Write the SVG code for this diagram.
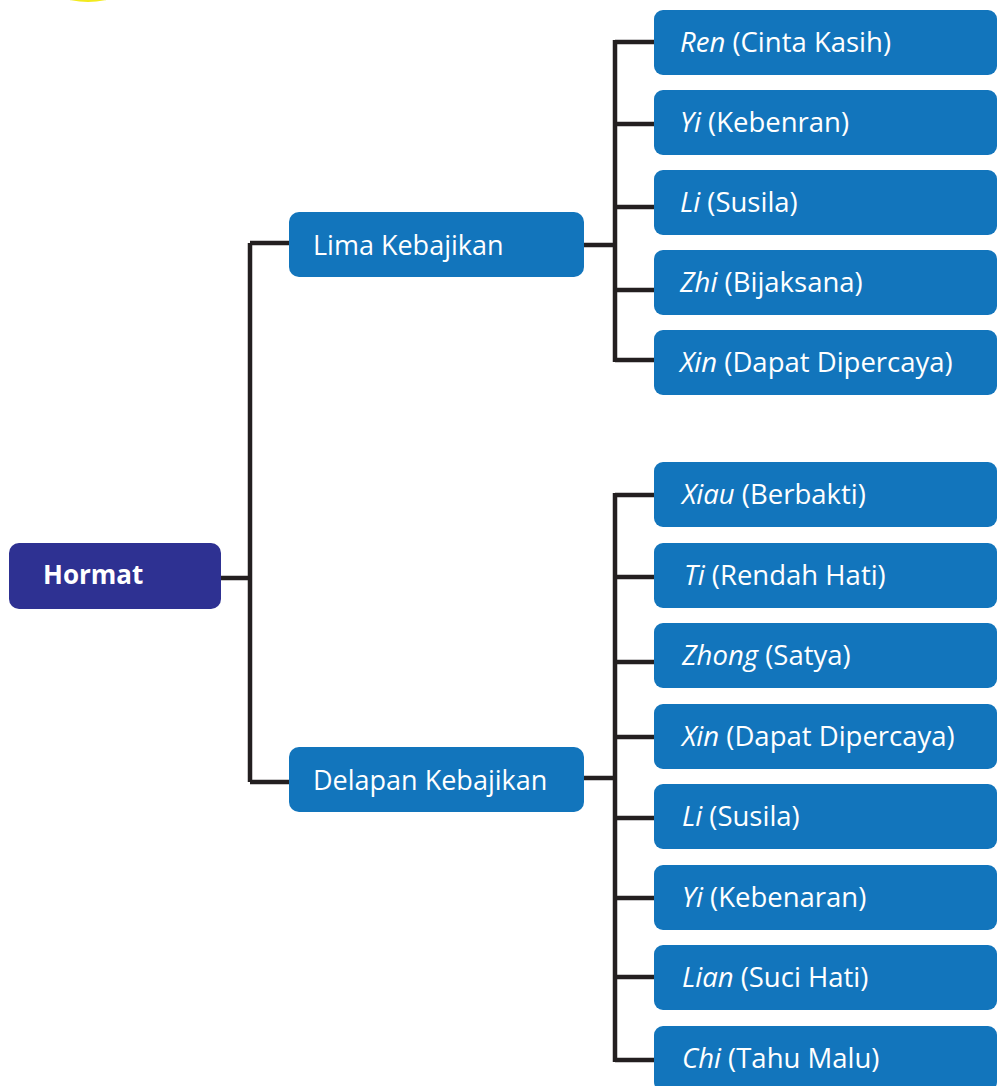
<svg xmlns="http://www.w3.org/2000/svg" width="998" height="1086" viewBox="0 0 998 1086">
<style>
.bg{fill:#ffffff}
.root rect{fill:#2e3192}
.mid rect,.leaf rect{fill:#1275bc}
text{font-family:"Open Sans","Noto Sans","Liberation Sans",sans-serif;fill:#ffffff;font-size:27.5px}
.mid text{font-size:27px}
.root text{font-weight:bold;font-size:26px}
.it{font-style:italic}
.conn path{fill:none;stroke:#231f20;stroke-width:4.5;stroke-linejoin:miter;stroke-linecap:butt}
</style>
<rect class="bg" x="0" y="0" width="998" height="1086"/>
<circle cx="88" cy="-84" r="86" fill="#f2ea1e"/>
<g class="conn" id="connectors">
<path d="M221 578 H250 M250 243 V782 M250 243 H289 M250 782 H289"/>
<path d="M584 245 H615 M615 40 V362 M615 42 H654 M615 124 H654 M615 207 H654 M615 290 H654 M615 360 H654"/>
<path d="M584 778 H615 M615 493 V1062 M615 495 H654 M615 577 H654 M615 662 H654 M615 737 H654 M615 818 H654 M615 898 H654 M615 977 H654 M615 1060 H654"/>
</g>
<g class="root" id="hormat"><rect x="9" y="543" width="212" height="66" rx="10"/><text x="43" y="584">Hormat</text></g>
<g class="mid" id="lima"><rect x="289" y="212" width="295" height="65" rx="10"/><text x="313" y="255">Lima Kebajikan</text></g>
<g class="mid" id="delapan"><rect x="289" y="747" width="295" height="65" rx="10"/><text x="313" y="790">Delapan Kebajikan</text></g>
<g class="leaf" id="ren"><rect x="654" y="10" width="343" height="65" rx="9"/><text x="680" y="52"><tspan class="it">Ren</tspan> (Cinta Kasih)</text></g>
<g class="leaf" id="yi1"><rect x="654" y="90" width="343" height="65" rx="9"/><text x="680" y="132"><tspan class="it">Yi</tspan> (Kebenran)</text></g>
<g class="leaf" id="li1"><rect x="654" y="170" width="343" height="65" rx="9"/><text x="680" y="212"><tspan class="it">Li</tspan> (Susila)</text></g>
<g class="leaf" id="zhi"><rect x="654" y="250" width="343" height="65" rx="9"/><text x="680" y="292"><tspan class="it">Zhi</tspan> (Bijaksana)</text></g>
<g class="leaf" id="xin1"><rect x="654" y="330" width="343" height="65" rx="9"/><text x="680" y="372"><tspan class="it">Xin</tspan> (Dapat Dipercaya)</text></g>
<g class="leaf" id="xiau"><rect x="654" y="462" width="343" height="65" rx="9"/><text x="682" y="504"><tspan class="it">Xiau</tspan> (Berbakti)</text></g>
<g class="leaf" id="ti"><rect x="654" y="543" width="343" height="65" rx="9"/><text x="684" y="585"><tspan class="it">Ti</tspan> (Rendah Hati)</text></g>
<g class="leaf" id="zhong"><rect x="654" y="623" width="343" height="65" rx="9"/><text x="682" y="665"><tspan class="it">Zhong</tspan> (Satya)</text></g>
<g class="leaf" id="xin2"><rect x="654" y="704" width="343" height="65" rx="9"/><text x="682" y="746"><tspan class="it">Xin</tspan> (Dapat Dipercaya)</text></g>
<g class="leaf" id="li2"><rect x="654" y="784" width="343" height="65" rx="9"/><text x="682" y="826"><tspan class="it">Li</tspan> (Susila)</text></g>
<g class="leaf" id="yi2"><rect x="654" y="865" width="343" height="65" rx="9"/><text x="682" y="907"><tspan class="it">Yi</tspan> (Kebenaran)</text></g>
<g class="leaf" id="lian"><rect x="654" y="945" width="343" height="65" rx="9"/><text x="682" y="987"><tspan class="it">Lian</tspan> (Suci Hati)</text></g>
<g class="leaf" id="chi"><rect x="654" y="1026" width="343" height="65" rx="9"/><text x="682" y="1068"><tspan class="it">Chi</tspan> (Tahu Malu)</text></g>
</svg>
